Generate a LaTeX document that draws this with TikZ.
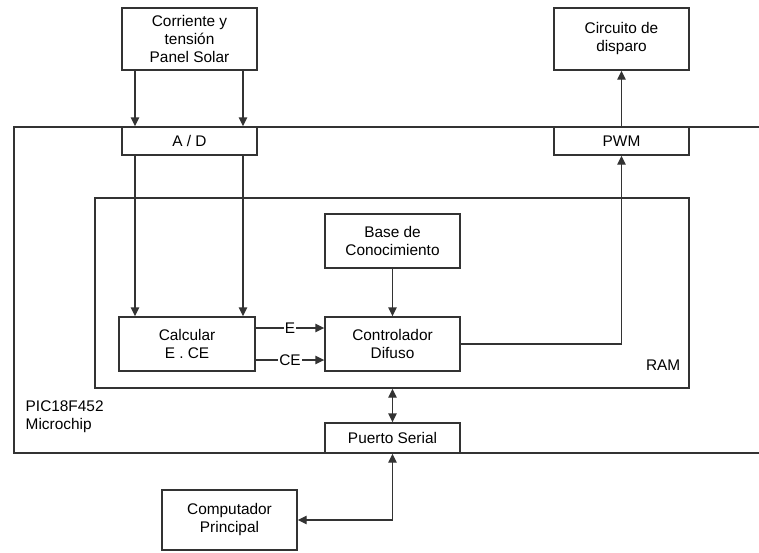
\documentclass[tikz,border=0pt]{standalone}
\usepackage{fontspec}
\setmainfont{Liberation Sans}
\usetikzlibrary{arrows.meta}
\definecolor{ln}{HTML}{333333}
\begin{document}
\begin{tikzpicture}[x=1pt,y=-1pt,line width=1.4pt,color=ln,
  txt/.style={font=\fontsize{15.4}{18}\selectfont,text=black,align=center,inner sep=0pt},
  box/.style={draw=ln,rectangle,txt,minimum width=135pt},
  arr/.style={-{Triangle[length=9pt,width=8.5pt]}},
  darr/.style={{Triangle[length=9pt,width=8.5pt]}-{Triangle[length=9pt,width=8.5pt]}},
  lbl/.style={txt,fill=white,inner sep=1pt}]
\useasboundingbox (0,0) rectangle (759,552);
% outer microcontroller frame (open on the right)
\draw (759,127) -- (14,127) -- (14,453) -- (759,453);
% RAM area
\node[draw=ln,rectangle,minimum width=594pt,minimum height=190pt,inner sep=0pt] (ram) at (392,293) {};
\node[txt,anchor=east] (ramlbl) at (681,365) {RAM};
\node[txt,anchor=west,align=left] (pic) at (25,417) {PIC18F452\\Microchip};
% boxes
\node[box,minimum height=62pt] (panel) at (189.5,39) {Corriente y\\tensión\\Panel Solar};
\node[box,minimum height=28pt,fill=white] (ad) at (189.5,141) {A / D};
\node[box,minimum height=62pt] (circ) at (621.5,39) {Circuito de\\disparo};
\node[box,minimum height=28pt,fill=white] (pwm) at (621.5,141) {PWM};
\node[box,minimum height=54pt] (base) at (392.5,241) {Base de\\Conocimiento};
\node[box,minimum height=54pt] (ctrl) at (392.5,344) {Controlador\\Difuso};
\node[box,minimum width=136pt,minimum height=54pt] (calc) at (187,344) {Calcular\\E . CE};
\node[box,minimum height=30pt,fill=white] (serial) at (392.5,438) {Puerto Serial};
\node[box,minimum height=60pt] (pc) at (229.5,520) {Computador\\Principal};
% connectors
\coordinate (xa) at (135,0);
\coordinate (xb) at (243,0);
\coordinate (ye) at (0,328);
\coordinate (yce) at (0,360);
\draw[arr] (panel.south -| xa) -- (ad.north -| xa);
\draw[arr] (panel.south -| xb) -- (ad.north -| xb);
\draw[arr] (ad.south -| xa) -- (calc.north -| xa);
\draw[arr] (ad.south -| xb) -- (calc.north -| xb);
\draw[arr] (calc.east |- ye) -- node[lbl] (le) {E} (ctrl.west |- ye);
\draw[arr] (calc.east |- yce) -- node[lbl] (lce) {CE} (ctrl.west |- yce);
\draw[arr] (base.south) -- (ctrl.north);
\draw[arr] (ctrl.east) -| (pwm.south);
\draw[arr] (pwm.north) -- (circ.south);
\draw[darr] (ram.south -| serial.north) -- (serial.north);
\draw[darr] (serial.south) |- (pc.east);
\end{tikzpicture}
\end{document}
